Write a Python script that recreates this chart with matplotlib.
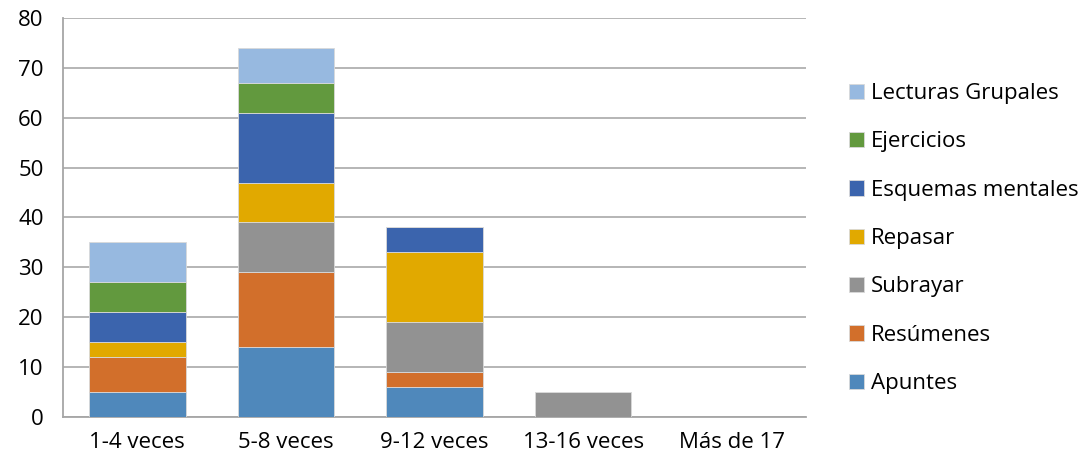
import numpy as np
import matplotlib.pyplot as plt

plt.rcParams['font.family'] = ['Open Sans', 'DejaVu Sans']

categories = ['1-4 veces', '5-8 veces', '9-12 veces', '13-16 veces', 'Más de 17']
series = ['Apuntes', 'Resúmenes', 'Subrayar', 'Repasar',
          'Esquemas mentales', 'Ejercicios', 'Lecturas Grupales']
apuntes    = [5, 14, 6, 0, 0]
resumenes  = [7, 15, 3, 0, 0]
subrayar   = [0, 10, 10, 5, 0]
repasar    = [3, 8, 14, 0, 0]
esquemas   = [6, 14, 5, 0, 0]
ejercicios = [6, 6, 0, 0, 0]
lecturas   = [8, 7, 0, 0, 0]
values = [apuntes, resumenes, subrayar, repasar, esquemas, ejercicios, lecturas]
colors = ['#4F88BB', '#D26F2B', '#929292', '#E1A900',
          '#3B64AD', '#62993E', '#97B9E0']

fig = plt.figure(figsize=(10.91, 4.63), dpi=100)
ax = fig.add_axes([63 / 1091, 46 / 463, 743 / 1091, 399 / 463])

x = np.arange(len(categories))
bottom = np.zeros(len(categories))
handles = []
for name, vals, c in zip(series, values, colors):
    vals = np.array(vals, dtype=float)
    h = ax.bar(x, vals, width=0.65, bottom=bottom, color=c,
               edgecolor='#D9D9D9', linewidth=0.6, label=name, zorder=3)
    handles.append(h)
    bottom += vals

ax.set_xlim(-0.5, len(categories) - 0.5)
ax.set_ylim(0, 80)
ax.set_yticks(range(0, 81, 10))
ax.set_xticks(x)
ax.set_xticklabels(categories)
ax.tick_params(axis='both', labelsize=16, length=0, colors='black')
ax.tick_params(axis='y', pad=14)
ax.tick_params(axis='x', pad=11)
ax.grid(axis='y', color='#B0B0B0', linewidth=1.3, zorder=0)
for s in ['top', 'right']:
    ax.spines[s].set_visible(False)
ax.spines['left'].set_color('#A6A6A6')
ax.spines['bottom'].set_color('#A6A6A6')
ax.spines['left'].set_linewidth(1.3)
ax.spines['bottom'].set_linewidth(1.3)

leg = fig.legend(handles[::-1], series[::-1], loc='upper left',
                 bbox_to_anchor=(829 / 1091, 1 - 63 / 463), frameon=False,
                 fontsize=16, handlelength=0.68, handleheight=0.68,
                 handletextpad=0.32, labelspacing=1.23)

plt.savefig('out.png', dpi=100)
